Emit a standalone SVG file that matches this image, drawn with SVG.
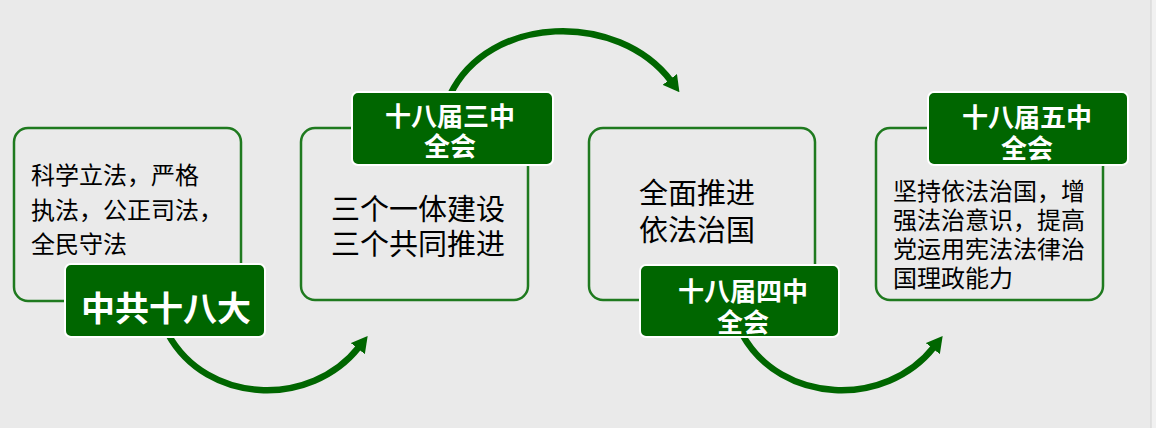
<svg xmlns="http://www.w3.org/2000/svg" width="1156" height="428" viewBox="0 0 1156 428">
<style>
.frame{fill:none;stroke:#1f7a1f;stroke-width:2.5}
.tag{fill:#006600;stroke:#ffffff;stroke-width:2}
.body{font-family:"Noto Sans CJK SC","Noto Sans",sans-serif;fill:#000000;dominant-baseline:central}
.head{font-family:"Noto Sans CJK SC","Noto Sans",sans-serif;fill:#ffffff;font-weight:bold;text-anchor:middle;dominant-baseline:central}
.arc{fill:none;stroke:#006600;stroke-width:6.5;marker-end:url(#ah)}
</style>
<defs>
<marker id="ah" markerUnits="userSpaceOnUse" viewBox="0 0 16 18" refX="2" refY="9" markerWidth="16" markerHeight="18" orient="auto">
<path d="M0,0 L16,9 L0,18 z" fill="#006600"/>
</marker>
</defs>
<rect x="0" y="0" width="1156" height="428" fill="#eaeaea"/>
<rect x="1151" y="0" width="5" height="428" fill="#f1f1f1"/>
<line x1="1151" y1="0" x2="1151" y2="428" stroke="#d2d2d2" stroke-width="1"/>

<g id="connectors">
<path class="arc" d="M168,334 C207,405 311,408 359,347"/>
<path class="arc" d="M450,95 C489,14 618,11 671,81"/>
<path class="arc" d="M742,334 C781,405 886,408 934,347"/>
</g>

<g id="node1">
<rect class="frame" x="14" y="128" width="227" height="173" rx="14"/>
<text class="body" font-size="24" x="31"><tspan x="31" y="172.5">科学立法，严格</tspan><tspan x="31" y="208">执法，公正司法，</tspan><tspan x="31" y="242">全民守法</tspan></text>
<rect class="tag" x="65" y="264" width="200" height="73" rx="6"/>
<text class="head" font-size="34" x="166" y="306">中共十八大</text>
</g>

<g id="node2">
<rect class="frame" x="301" y="128" width="227" height="172" rx="14"/>
<text class="body" font-size="29"><tspan x="331" y="206.5">三个一体建设</tspan><tspan x="331" y="241.5">三个共同推进</tspan></text>
<rect class="tag" x="352" y="92" width="201" height="73" rx="6"/>
<text class="head" font-size="26"><tspan x="450" y="114">十八届三中</tspan><tspan x="450" y="144">全会</tspan></text>
</g>

<g id="node3">
<rect class="frame" x="589" y="128" width="226" height="172" rx="14"/>
<text class="body" font-size="29"><tspan x="639" y="190.5">全面推进</tspan><tspan x="639" y="227.5">依法治国</tspan></text>
<rect class="tag" x="640" y="265" width="199" height="72" rx="6"/>
<text class="head" font-size="26"><tspan x="743" y="288.5">十八届四中</tspan><tspan x="743" y="320">全会</tspan></text>
</g>

<g id="node4">
<rect class="frame" x="876" y="128" width="227" height="172" rx="14"/>
<text class="body" font-size="24"><tspan x="893" y="189">坚持依法治国，增</tspan><tspan x="893" y="218">强法治意识，提高</tspan><tspan x="893" y="247">党运用宪法法律治</tspan><tspan x="893" y="276">国理政能力</tspan></text>
<rect class="tag" x="928" y="92" width="200" height="73" rx="6"/>
<text class="head" font-size="26"><tspan x="1027" y="115">十八届五中</tspan><tspan x="1027" y="146">全会</tspan></text>
</g>
</svg>
